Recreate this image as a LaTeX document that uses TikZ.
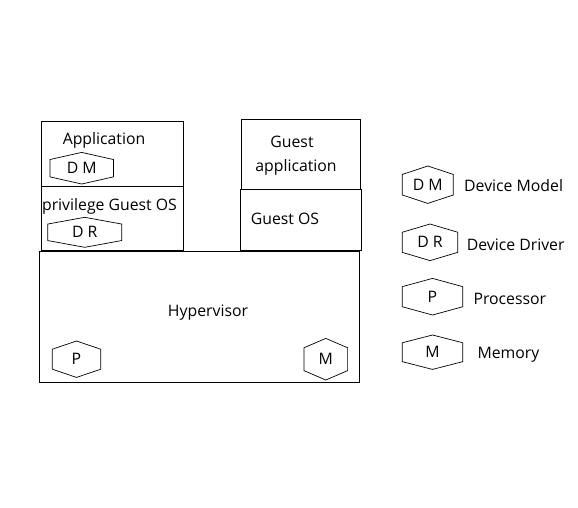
\documentclass[tikz,border=0pt]{standalone}
\usepackage{fontspec}
\setmainfont{Open Sans}
\usetikzlibrary{calc}
\newcommand{\hexnode}[6]{%
  \node[lbl] (#1) at (#2,#3) {#6};
  \draw[hex] (#2,#3-#5) -- (#2+#4,#3-0.55*#5) -- (#2+#4,#3+0.55*#5) -- (#2,#3+#5)
    -- (#2-#4,#3+0.55*#5) -- (#2-#4,#3-0.55*#5) -- cycle;}
\begin{document}
\begin{tikzpicture}[x=1pt,y=-1pt,
  box/.style={draw, line width=1.2pt, inner sep=0pt, anchor=north west},
  lbl/.style={font=\fontsize{15.8}{18}\selectfont, inner sep=0pt},
  hex/.style={draw, line width=0.7pt}]
\useasboundingbox[fill=white] (0,0) rectangle (578,507);
% boxes
\node[box, minimum width=142pt, minimum height=65pt] (app) at (41,121) {};
\node[box, minimum width=142pt, minimum height=64pt] (pgos) at (41,186) {};
\node[box, minimum width=119pt, minimum height=70pt] (gapp) at (241,119) {};
\node[box, minimum width=121pt, minimum height=61pt] (gos) at (240,189) {};
\node[box, minimum width=320pt, minimum height=131pt] (hyp) at (39,251) {};
% labels
\node[lbl] (tapp) at (104,140) {Application};
\node[lbl] (tpgos) at (109.5,206) {privilege Guest OS};
\node[lbl] (tgapp1) at (292,141.5) {Guest};
\node[lbl] (tgapp2) at (296,167.5) {application};
\node[lbl] (tgos) at (285,218.5) {Guest OS};
\node[lbl] (thyp) at (208,313) {Hypervisor};
% hexagons in the stack
\hexnode{dm}{81.7}{168.2}{31.7}{15.8}{D M}
\hexnode{dr}{84.7}{232.3}{37}{15}{D R}
\hexnode{p}{76.5}{359.2}{24.2}{18.2}{P}
\hexnode{m}{325.8}{359.2}{21.8}{20.8}{M}
% legend
\hexnode{ldm}{427.8}{184.7}{25.5}{18.7}{D M}
\hexnode{ldr}{430}{242.3}{27.7}{18.3}{D R}
\hexnode{lp}{432.5}{296.7}{30.2}{18.3}{P}
\hexnode{lm}{432.5}{352.2}{30.2}{17.2}{M}
\node[lbl, anchor=west] (tldm) at (464,186) {Device Model};
\node[lbl, anchor=west] (tldr) at (466.7,244.3) {Device Driver};
\node[lbl, anchor=west] (tlp) at (473.3,299.3) {Processor};
\node[lbl, anchor=west] (tlm) at (477.3,355) {Memory};
\end{tikzpicture}
\end{document}
